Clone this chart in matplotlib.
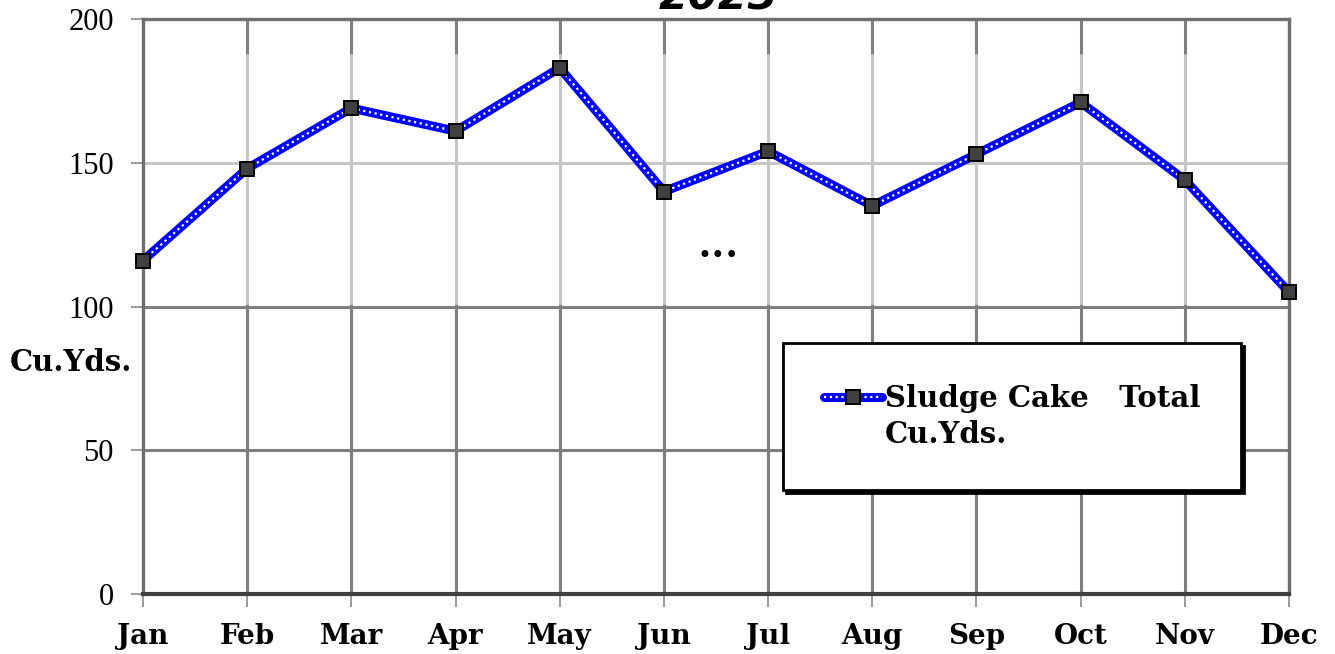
import matplotlib
matplotlib.use("Agg")
import matplotlib.pyplot as plt
from matplotlib.lines import Line2D
from matplotlib.legend_handler import HandlerTuple

months = ["Jan", "Feb", "Mar", "Apr", "May", "Jun", "Jul", "Aug", "Sep", "Oct", "Nov", "Dec"]
cake_cu_yds = [116, 148, 169, 161, 183, 140, 154, 135, 153, 171, 144, 105]
y_ticks = [0, 50, 100, 150, 200]
series_label_lines = ["Sludge Cake   Total", "Cu.Yds."]
title_text = "2023"

fig = plt.figure(figsize=(13.35, 6.54), dpi=100)
ax = fig.add_axes([143/1335, 1-594/654, (1289-143)/1335, (594-19)/654])

x = list(range(len(months)))
dark_c = "#7f7f7f"
light_c = "#c6c6c6"
ax.vlines(x[1:-1], 0, 101, color=dark_c, lw=2.2, zorder=1)
ax.vlines(x[1:-1], 101, 188, color=light_c, lw=2.2, zorder=1)
ax.vlines(x[1:-1], 188, 200, color=dark_c, lw=2.2, zorder=1)
ax.axhline(50, color=dark_c, lw=2.2, zorder=1)
ax.axhline(100, color=dark_c, lw=2.2, zorder=1)
ax.axhline(150, color=light_c, lw=2.2, zorder=1)

line_kw = dict(color="#0000ff", lw=6.5)
dots_kw = dict(color="white", lw=1.6, ls=(0, (1, 1.6)))
mark_kw = dict(ls="none", marker="s", ms=10.5, mfc="#404040", mec="black", mew=1.4)
ax.plot(x, cake_cu_yds, solid_capstyle="round", zorder=3, **line_kw)
ax.plot(x, cake_cu_yds, zorder=4, **dots_kw)
ax.plot(x, cake_cu_yds, zorder=5, clip_on=False, **mark_kw)

ax.set_xlim(0, len(months) - 1)
ax.set_ylim(0, 200)
ax.set_yticks(y_ticks)
ax.set_xticks(x)
ax.set_xticklabels(months, fontfamily="DejaVu Serif", fontweight="bold", fontsize=20)
ax.set_yticklabels([str(v) for v in y_ticks], fontfamily="Liberation Serif", fontsize=22)
ax.tick_params(axis="both", length=9, width=1.2, color="#8a8a8a")
ax.tick_params(axis="x", pad=12)
ax.tick_params(axis="y", pad=12)
for name, s in ax.spines.items():
    s.set_color("#6f6f6f")
    s.set_linewidth(2.4)
ax.spines["bottom"].set_color("#404040")
ax.spines["bottom"].set_linewidth(3)

fig.text(10/1335, 1-362/654, "Cu.Yds.", fontfamily="DejaVu Serif", fontweight="bold",
         fontsize=21, ha="left", va="center")

fig.text(718/1335, 1-10/654, title_text, fontfamily="DejaVu Sans", fontweight="bold",
         fontstyle="italic", fontsize=31, ha="center", va="baseline")

ax.text(5.52, 117.5, "\u2022\u2022\u2022", fontsize=17, ha="center", va="center",
        fontfamily="DejaVu Sans", color="black")

h1 = Line2D([], [], solid_capstyle="round", **line_kw)
h2 = Line2D([], [], **dots_kw)
h3 = Line2D([], [], **mark_kw)
h_blank = Line2D([], [], color="none", lw=0)
leg = ax.legend([(h1, h2, h3), h_blank], series_label_lines,
                handler_map={tuple: HandlerTuple(ndivide=1, pad=0)},
                loc="upper left", bbox_to_anchor=((783-143)/1146, (594-343)/575),
                frameon=True, fancybox=False, shadow={"color": "black", "alpha": 1},
                prop={"family": "DejaVu Serif", "weight": "bold", "size": 21},
                handlelength=2.0, handletextpad=0.1, borderpad=1.4, borderaxespad=0,
                labelspacing=0.25)
leg.get_frame().set_edgecolor("black")
leg.get_frame().set_linewidth(2)
leg.set_zorder(10)

fig.savefig("out.png", dpi=100)
